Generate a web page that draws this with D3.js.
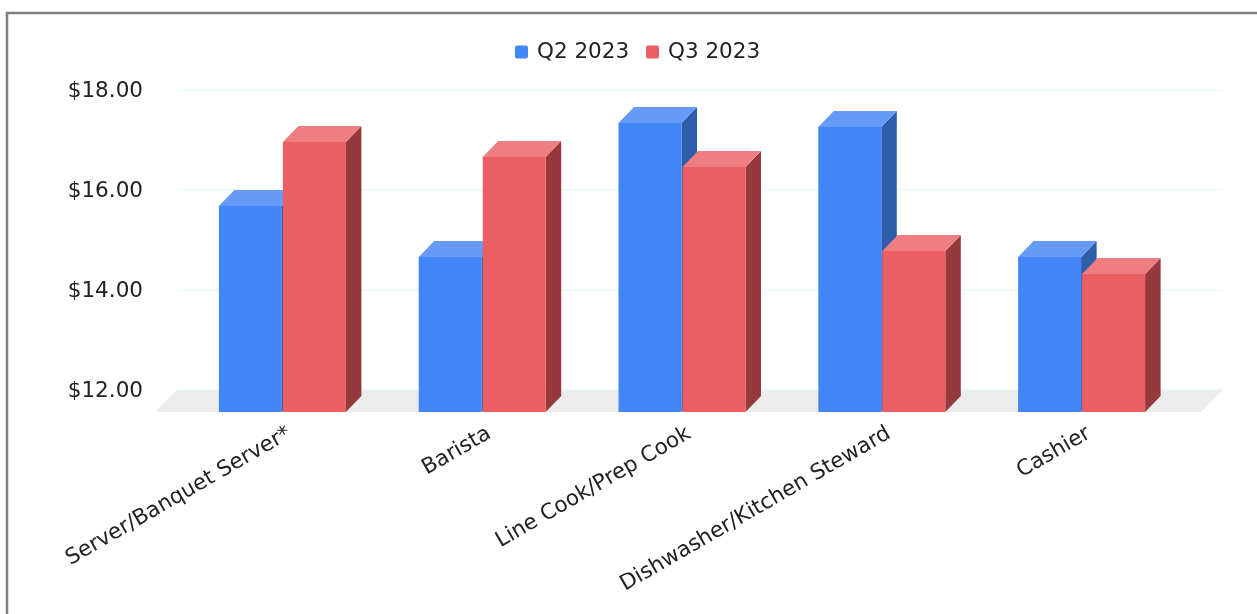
<!DOCTYPE html>
<html>
<head>
<meta charset="utf-8">
<script src="https://cdn.jsdelivr.net/npm/d3@7"></script>
<style>
html, body { margin: 0; padding: 0; background: #fff; overflow: hidden; }
svg { display: block; filter: blur(0.5px); }
text { font-family: "DejaVu Sans", sans-serif; fill: #222; }
</style>
</head>
<body>
<svg id="chart" width="1257" height="614"></svg>
<script>
var categories = ["Server/Banquet Server*", "Barista", "Line Cook/Prep Cook", "Dishwasher/Kitchen Steward", "Cashier"];
var seriesNames = ["Q2 2023", "Q3 2023"];
var q2Values = [16.12, 15.10, 17.78, 17.70, 15.10];
var q3Values = [17.40, 17.10, 16.90, 15.22, 14.76];
var yTicks = [12, 14, 16, 18];

var colors = [
	{ front: "#4285f4", top: "#659bf6", side: "#2e5daa" },
	{ front: "#eb5e64", top: "#ef7e83", side: "#95393d" }
];

var svg = d3.select("#chart");
var baseY = 412;
var depth = 22;       // floor depth
var barDepthX = 15.5; // bar depth, a bit less than the floor
var barDepthY = 16;
var fontSize = 21.5;

var x = d3.scaleBand().domain(categories).range([182.5, 1181.5]).paddingInner(0).paddingOuter(0);
var y = d3.scaleLinear().domain([12, 18]).range([baseY, baseY - 300]);

// frame, only top and left are in the picture
svg.append("path")
	.attr("d", "M7,640V13H1257")
	.attr("fill", "none").attr("stroke", "#808080").attr("stroke-width", 2.5);

// floor
var floorLeft = 155, floorRight = 1201;
svg.append("path")
	.attr("d", "M" + floorLeft + "," + baseY + "L" + (floorLeft + depth) + "," + (baseY - depth) +
		"L" + (floorRight + depth) + "," + (baseY - depth) + "L" + floorRight + "," + baseY + "Z")
	.attr("fill", "#ececec");

// grid lines on back wall, y labels
yTicks.forEach(function(t) {
	svg.append("line")
		.attr("x1", floorLeft + depth).attr("x2", floorRight + depth)
		.attr("y1", y(t) - depth).attr("y2", y(t) - depth)
		.attr("stroke", "#eaf6fc").attr("stroke-width", 1.5);
	svg.append("text")
		.attr("x", 143).attr("y", y(t) - depth - 1)
		.attr("dy", "0.36em")
		.attr("text-anchor", "end")
		.attr("font-size", fontSize)
		.text("$" + t.toFixed(2));
});

function drawBar(g, left, width, top, c) {
	var right = left + width;
	g.append("path") // side
		.attr("d", "M" + right + "," + baseY + "L" + (right + barDepthX) + "," + (baseY - barDepthY) +
			"L" + (right + barDepthX) + "," + (top - barDepthY) + "L" + right + "," + top + "Z")
		.attr("fill", c.side);
	g.append("path") // top
		.attr("d", "M" + left + "," + top + "L" + (left + barDepthX) + "," + (top - barDepthY) +
			"L" + (right + barDepthX) + "," + (top - barDepthY) + "L" + right + "," + top + "Z")
		.attr("fill", c.top);
	g.append("rect")
		.attr("x", left).attr("y", top)
		.attr("width", width).attr("height", baseY - top)
		.attr("fill", c.front);
}

var barW = 63;
categories.forEach(function(cat, i) {
	var g = svg.append("g").attr("class", "cat");
	var center = x(cat) + x.bandwidth() / 2;
	drawBar(g, center - barW - 0.5, barW, y(q2Values[i]), colors[0]);
	drawBar(g, center + 0.5, barW, y(q3Values[i]), colors[1]);
	// slanted category label, ends under the bars
	svg.append("text")
		.attr("transform", "translate(" + (center + 10) + "," + 437 + ") rotate(-30)")
		.attr("text-anchor", "end")
		.attr("font-size", fontSize)
		.text(cat);
});

// legend
var legendX = [515, 646];
seriesNames.forEach(function(name, i) {
	svg.append("rect")
		.attr("x", legendX[i]).attr("y", 45.5)
		.attr("width", 13).attr("height", 13)
		.attr("rx", 2)
		.attr("fill", colors[i].front);
	svg.append("text")
		.attr("x", legendX[i] + 22).attr("y", 50.5)
		.attr("dy", "0.36em")
		.attr("font-size", fontSize)
		.text(name);
});
</script>
</body>
</html>
